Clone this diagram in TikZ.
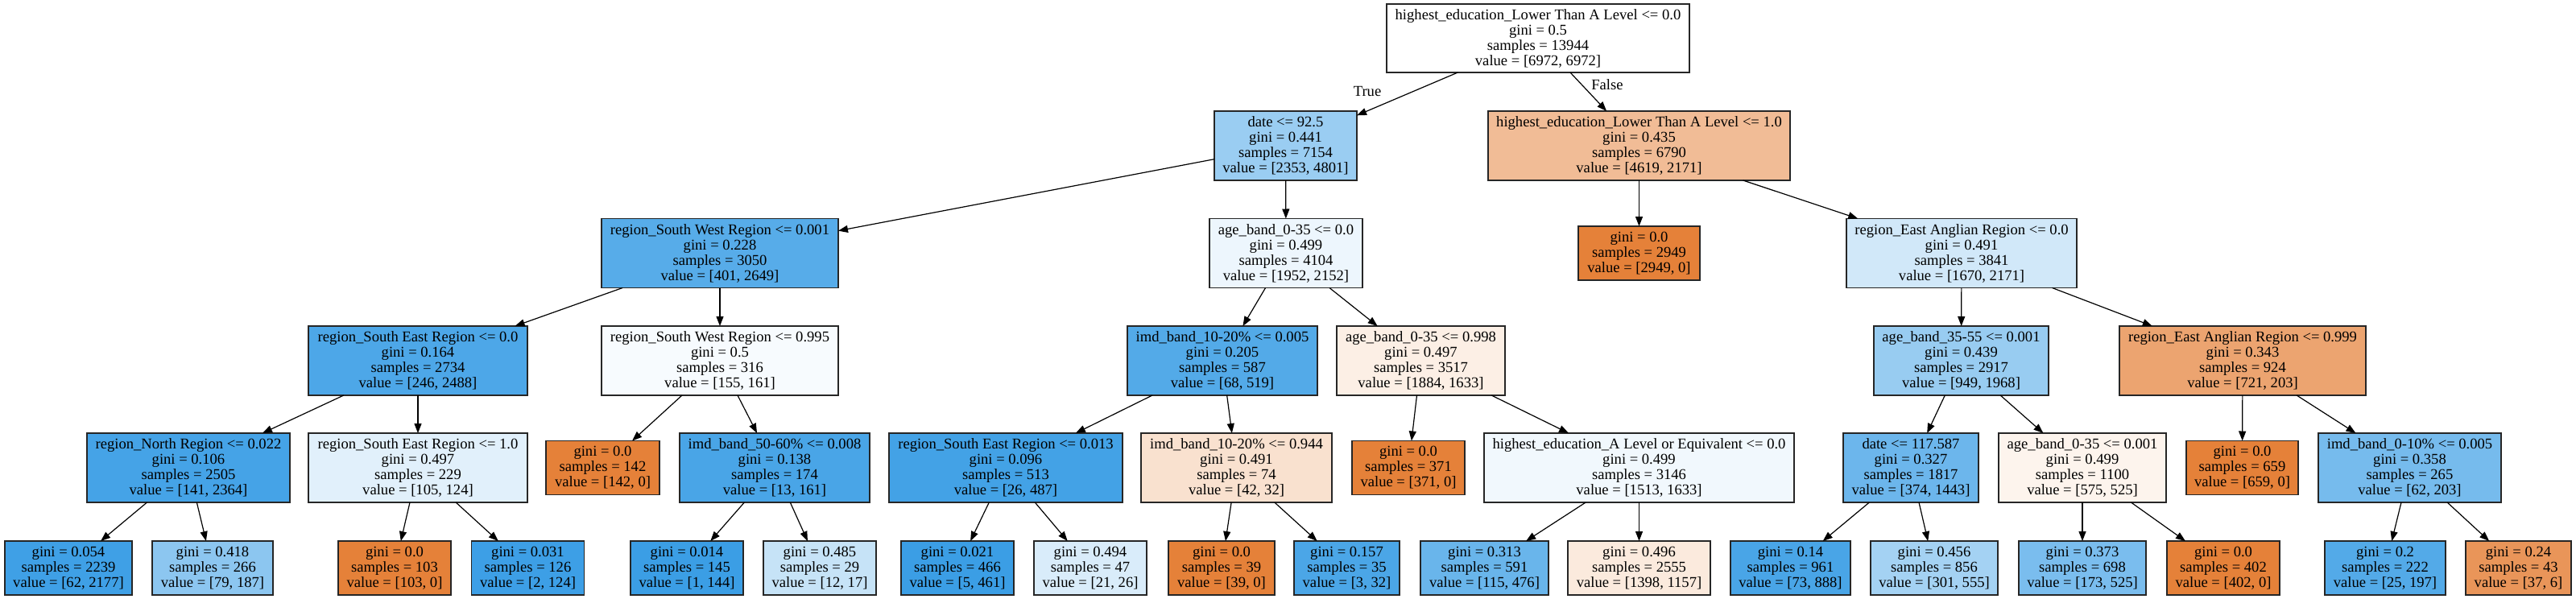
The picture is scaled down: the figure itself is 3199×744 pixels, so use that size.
\documentclass[tikz,border=0pt]{standalone}
\usepackage{fontspec}
\setmainfont{Liberation Serif}
\usetikzlibrary{arrows.meta}
\definecolor{gvb}{RGB}{57,157,229}
\definecolor{gvo}{RGB}{229,129,57}
\begin{document}
\begin{tikzpicture}[x=1pt,y=-1pt,
  nd/.style={draw=black!85, line width=1.3pt, rectangle, inner sep=0pt, outer sep=0pt, align=center,
    font=\fontsize{18.6}{19}\selectfont},
  n4/.style={nd, minimum height=86pt},
  n3/.style={nd, minimum height=67pt},
  edge/.style={draw=black, line width=1.2pt, -{Triangle[length=12pt,width=9pt]}},
  lbl/.style={inner sep=0pt, font=\fontsize{18.6}{19}\selectfont}]
\useasboundingbox (0,0) rectangle (3199,744);
\fill[white] (0,0) rectangle (3199,744);
% level 0
\node[n4, fill=white, minimum width=376pt, minimum height=85pt] (root) at (1910,47.5) {highest\_education\_Lower Than A Level <= 0.0\\gini = 0.5\\samples = 13944\\value = [6972, 6972]};
% level 1
\node[n4, fill=gvb!51!white, minimum width=177pt] (date) at (1596.5,181) {date <= 92.5\\gini = 0.441\\samples = 7154\\value = [2353, 4801]};
\node[n4, fill=gvo!53!white, minimum width=375pt] (he1) at (2035.5,181) {highest\_education\_Lower Than A Level <= 1.0\\gini = 0.435\\samples = 6790\\value = [4619, 2171]};
% level 2
\node[n4, fill=gvb!85!white, minimum width=294pt] (sw1) at (894,314.5) {region\_South West Region <= 0.001\\gini = 0.228\\samples = 3050\\value = [401, 2649]};
\node[n4, fill=gvb!9!white, minimum width=190pt] (age0) at (1597,314.5) {age\_band\_0-35 <= 0.0\\gini = 0.499\\samples = 4104\\value = [1952, 2152]};
\node[n3, fill=gvo, minimum width=151pt] (l2949) at (2035.5,314.5) {gini = 0.0\\samples = 2949\\value = [2949, 0]};
\node[n4, fill=gvb!23!white, minimum width=286pt] (ea0) at (2436,314.5) {region\_East Anglian Region <= 0.0\\gini = 0.491\\samples = 3841\\value = [1670, 2171]};
% level 3
\node[n4, fill=gvb!90!white, minimum width=272pt] (se0) at (519,448) {region\_South East Region <= 0.0\\gini = 0.164\\samples = 2734\\value = [246, 2488]};
\node[n4, fill=gvb!4!white, minimum width=294pt] (sw995) at (894,448) {region\_South West Region <= 0.995\\gini = 0.5\\samples = 316\\value = [155, 161]};
\node[n4, fill=gvb!87!white, minimum width=236pt] (imd005) at (1518,448) {imd\_band\_10-20\% <= 0.005\\gini = 0.205\\samples = 587\\value = [68, 519]};
\node[n4, fill=gvo!13!white, minimum width=209pt] (age998) at (1764.5,448) {age\_band\_0-35 <= 0.998\\gini = 0.497\\samples = 3517\\value = [1884, 1633]};
\node[n4, fill=gvb!52!white, minimum width=217pt] (age3555) at (2435.5,448) {age\_band\_35-55 <= 0.001\\gini = 0.439\\samples = 2917\\value = [949, 1968]};
\node[n4, fill=gvo!72!white, minimum width=306pt] (ea999) at (2785,448) {region\_East Anglian Region <= 0.999\\gini = 0.343\\samples = 924\\value = [721, 203]};
% level 4
\node[n4, fill=gvb!94!white, minimum width=252pt] (north) at (234,581) {region\_North Region <= 0.022\\gini = 0.106\\samples = 2505\\value = [141, 2364]};
\node[n4, fill=gvb!15!white, minimum width=272pt] (se1) at (519,581) {region\_South East Region <= 1.0\\gini = 0.497\\samples = 229\\value = [105, 124]};
\node[n3, fill=gvo, minimum width=141pt] (l142) at (748.5,581) {gini = 0.0\\samples = 142\\value = [142, 0]};
\node[n4, fill=gvb!92!white, minimum width=236pt] (imd5060) at (962,581) {imd\_band\_50-60\% <= 0.008\\gini = 0.138\\samples = 174\\value = [13, 161]};
\node[n4, fill=gvb!95!white, minimum width=290pt] (se013) at (1249,581) {region\_South East Region <= 0.013\\gini = 0.096\\samples = 513\\value = [26, 487]};
\node[n4, fill=gvo!24!white, minimum width=237pt] (imd944) at (1535.5,581) {imd\_band\_10-20\% <= 0.944\\gini = 0.491\\samples = 74\\value = [42, 32]};
\node[n3, fill=gvo, minimum width=140pt] (l371) at (1749,581) {gini = 0.0\\samples = 371\\value = [371, 0]};
\node[n4, fill=gvb!7!white, minimum width=385pt] (hea) at (2035.5,581) {highest\_education\_A Level or Equivalent <= 0.0\\gini = 0.499\\samples = 3146\\value = [1513, 1633]};
\node[n4, fill=gvb!74!white, minimum width=168pt] (date117) at (2373,581) {date <= 117.587\\gini = 0.327\\samples = 1817\\value = [374, 1443]};
\node[n4, fill=gvo!9!white, minimum width=208pt] (age001) at (2586,581) {age\_band\_0-35 <= 0.001\\gini = 0.499\\samples = 1100\\value = [575, 525]};
\node[n3, fill=gvo, minimum width=139pt] (l659) at (2784.5,581) {gini = 0.0\\samples = 659\\value = [659, 0]};
\node[n4, fill=gvb!69!white, minimum width=227pt] (imd010) at (2992.5,581) {imd\_band\_0-10\% <= 0.005\\gini = 0.358\\samples = 265\\value = [62, 203]};
% level 5
\node[n3, fill=gvb!97!white, minimum width=158pt] (a054) at (85,705.5) {gini = 0.054\\samples = 2239\\value = [62, 2177]};
\node[n3, fill=gvb!58!white, minimum width=150pt] (a418) at (264,705.5) {gini = 0.418\\samples = 266\\value = [79, 187]};
\node[n3, fill=gvo, minimum width=140pt] (a103) at (490,705.5) {gini = 0.0\\samples = 103\\value = [103, 0]};
\node[n3, fill=gvb!98!white, minimum width=140pt] (a031) at (655.5,705.5) {gini = 0.031\\samples = 126\\value = [2, 124]};
\node[n3, fill=gvb!99!white, minimum width=140pt] (a014) at (853,705.5) {gini = 0.014\\samples = 145\\value = [1, 144]};
\node[n3, fill=gvb!29!white, minimum width=140pt] (a485) at (1018,705.5) {gini = 0.485\\samples = 29\\value = [12, 17]};
\node[n3, fill=gvb!99!white, minimum width=140pt] (a021) at (1189,705.5) {gini = 0.021\\samples = 466\\value = [5, 461]};
\node[n3, fill=gvb!19!white, minimum width=140pt] (a494) at (1354,705.5) {gini = 0.494\\samples = 47\\value = [21, 26]};
\node[n3, fill=gvo, minimum width=132pt] (a39) at (1517,705.5) {gini = 0.0\\samples = 39\\value = [39, 0]};
\node[n3, fill=gvb!91!white, minimum width=131pt] (a157) at (1672.5,705.5) {gini = 0.157\\samples = 35\\value = [3, 32]};
\node[n3, fill=gvb!76!white, minimum width=159pt] (a313) at (1843.5,705.5) {gini = 0.313\\samples = 591\\value = [115, 476]};
\node[n3, fill=gvo!17!white, minimum width=177pt] (a496) at (2035.5,705.5) {gini = 0.496\\samples = 2555\\value = [1398, 1157]};
\node[n3, fill=gvb!92!white, minimum width=149pt] (a14) at (2223.5,705.5) {gini = 0.14\\samples = 961\\value = [73, 888]};
\node[n3, fill=gvb!46!white, minimum width=158pt] (a456) at (2402,705.5) {gini = 0.456\\samples = 856\\value = [301, 555]};
\node[n3, fill=gvb!67!white, minimum width=158pt] (a373) at (2586,705.5) {gini = 0.373\\samples = 698\\value = [173, 525]};
\node[n3, fill=gvo, minimum width=140pt] (a402) at (2761,705.5) {gini = 0.0\\samples = 402\\value = [402, 0]};
\node[n3, fill=gvb!87!white, minimum width=150pt] (a2) at (2962,705.5) {gini = 0.2\\samples = 222\\value = [25, 197]};
\node[n3, fill=gvo!84!white, minimum width=131pt] (a24) at (3127.5,705.5) {gini = 0.24\\samples = 43\\value = [37, 6]};
% edge labels
\node[lbl] (tl) at (1698,113) {True};
\node[lbl] (fl) at (1996,105) {False};
% edges
\draw[edge] (root) -- (date);
\draw[edge] (root) -- (he1);
\draw[edge] (date) -- (sw1);
\draw[edge] (date) -- (age0);
\draw[edge] (he1) -- (l2949);
\draw[edge] (he1) -- (ea0);
\draw[edge] (sw1) -- (se0);
\draw[edge] (sw1) -- (sw995);
\draw[edge] (age0) -- (imd005);
\draw[edge] (age0) -- (age998);
\draw[edge] (ea0) -- (age3555);
\draw[edge] (ea0) -- (ea999);
\draw[edge] (se0) -- (north);
\draw[edge] (se0) -- (se1);
\draw[edge] (sw995) -- (l142);
\draw[edge] (sw995) -- (imd5060);
\draw[edge] (imd005) -- (se013);
\draw[edge] (imd005) -- (imd944);
\draw[edge] (age998) -- (l371);
\draw[edge] (age998) -- (hea);
\draw[edge] (age3555) -- (date117);
\draw[edge] (age3555) -- (age001);
\draw[edge] (ea999) -- (l659);
\draw[edge] (ea999) -- (imd010);
\draw[edge] (north) -- (a054);
\draw[edge] (north) -- (a418);
\draw[edge] (se1) -- (a103);
\draw[edge] (se1) -- (a031);
\draw[edge] (imd5060) -- (a014);
\draw[edge] (imd5060) -- (a485);
\draw[edge] (se013) -- (a021);
\draw[edge] (se013) -- (a494);
\draw[edge] (imd944) -- (a39);
\draw[edge] (imd944) -- (a157);
\draw[edge] (hea) -- (a313);
\draw[edge] (hea) -- (a496);
\draw[edge] (date117) -- (a14);
\draw[edge] (date117) -- (a456);
\draw[edge] (age001) -- (a373);
\draw[edge] (age001) -- (a402);
\draw[edge] (imd010) -- (a2);
\draw[edge] (imd010) -- (a24);
\end{tikzpicture}
\end{document}
